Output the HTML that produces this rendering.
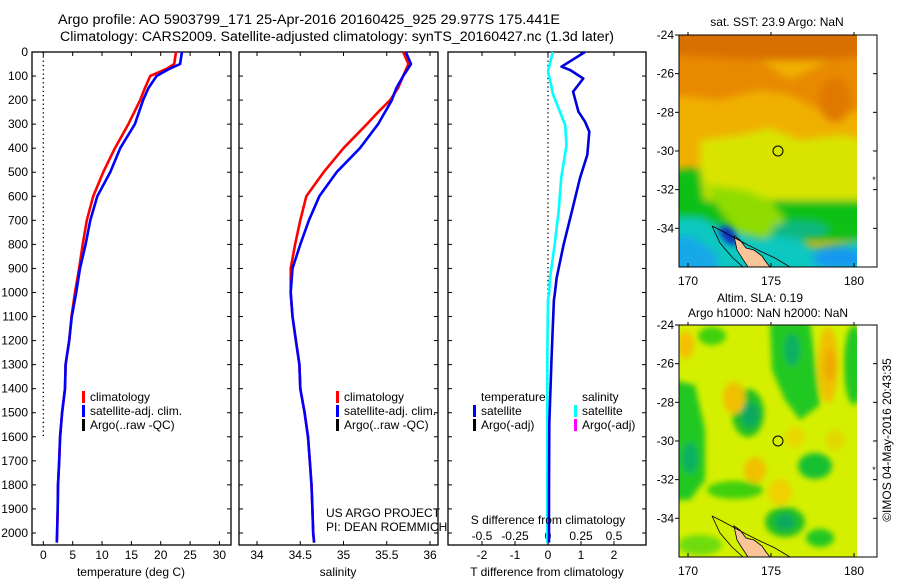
<!DOCTYPE html>
<html><head><meta charset="utf-8"><title>Argo profile</title>
<style>
html,body{margin:0;padding:0;background:#fff;}
svg{display:block;font-family:"Liberation Sans",sans-serif;}
</style></head>
<body>
<svg id="fig" width="900" height="580" viewBox="0 0 900 580" xmlns="http://www.w3.org/2000/svg">
<defs>
<filter id="blur4" x="-20%" y="-20%" width="140%" height="140%"><feGaussianBlur stdDeviation="4"/></filter>
<filter id="blur3" x="-30%" y="-30%" width="160%" height="160%"><feGaussianBlur stdDeviation="3"/></filter>
<clipPath id="clipSST"><rect x="679" y="35" width="178" height="232"/></clipPath>
<clipPath id="clipSLA"><rect x="679" y="325" width="178" height="232"/></clipPath>
</defs>
<g id="titles" font-size="13.5" fill="#000">
<text x="58" y="24" textLength="502" lengthAdjust="spacingAndGlyphs">Argo profile: AO 5903799_171 25-Apr-2016 20160425_925 29.977S 175.441E</text>
<text x="60" y="41" textLength="554" lengthAdjust="spacingAndGlyphs">Climatology: CARS2009. Satellite-adjusted climatology: synTS_20160427.nc (1.3d later)</text>
</g>

<!-- SST map -->
<g>
<g clip-path="url(#clipSST)">
<rect x="679" y="35" width="178" height="232" fill="#f0b000"/>
<g filter="url(#blur4)">
<rect x="670" y="25" width="200" height="35" fill="#d87000"/>
<polygon points="670,55 760,60 790,80 830,60 870,55 870,110 830,115 790,95 760,90 720,100 670,95" fill="#e88a00"/>
<ellipse cx="835" cy="100" rx="16" ry="22" fill="#e07800"/>
<polygon points="700,140 740,135 770,128 800,140 840,135 870,140 870,205 700,205" fill="#d8e400"/>
<polygon points="660,172 700,168 705,200 870,200 870,240 660,240" fill="#10c018"/>
<polygon points="705,185 745,190 770,200 785,220 765,238 738,232 720,210" fill="#90dc00"/>
<polygon points="660,218 700,218 730,232 760,240 790,232 812,248 870,240 870,280 660,280" fill="#10c8c0"/>
<polygon points="660,238 690,236 715,252 722,280 660,280" fill="#18a8e8"/>
<ellipse cx="838" cy="258" rx="26" ry="11" fill="#1898f0"/>
<ellipse cx="800" cy="230" rx="28" ry="9" fill="#10b880"/>
</g>
<polygon points="718,228 728,226 735,233 738,245 730,245 722,238" fill="#1030c0" filter="url(#blur3)"/>
<polygon points="734,236 740,240 746,248 754,250 762,256 766,262 770,267 748,267 742,258 737,250" fill="#f8c498" stroke="#000" stroke-width="0.8"/>
<polyline points="712,226 722,231 733,237 746,244 760,251 775,258 790,267" fill="none" stroke="#000" stroke-width="0.8"/>
<polyline points="712,226 720,243 732,257 743,267" fill="none" stroke="#000" stroke-width="0.8"/>
</g>
<circle cx="778" cy="151" r="5" fill="none" stroke="#000" stroke-width="1"/>
<rect x="679" y="35" width="198" height="232" fill="none" stroke="#000" stroke-width="1"/>
<text x="777" y="26" font-size="12" text-anchor="middle">sat. SST: 23.9 Argo: NaN</text>
<text x="874" y="183" font-size="9" text-anchor="middle">*</text>
<g id="sstAxes" font-size="12"></g>
</g>

<!-- SLA map -->
<g>
<g clip-path="url(#clipSLA)">
<rect x="679" y="325" width="178" height="232" fill="#d4f000"/>
<g filter="url(#blur3)">
<polygon points="770,322 810,322 815,360 820,405 800,420 785,400 772,370" fill="#20c820"/>
<ellipse cx="792" cy="350" rx="8" ry="16" fill="#10b060"/>
<polygon points="672,380 695,385 705,430 705,480 690,500 672,500" fill="#20c820"/>
<ellipse cx="690" cy="458" rx="8" ry="16" fill="#10b060"/>
<ellipse cx="748" cy="413" rx="16" ry="24" fill="#20c020"/>
<ellipse cx="750" cy="415" rx="9" ry="13" fill="#10a860"/>
<ellipse cx="854" cy="365" rx="10" ry="40" fill="#20c820"/>
<ellipse cx="815" cy="466" rx="17" ry="13" fill="#18c030"/>
<ellipse cx="785" cy="522" rx="20" ry="15" fill="#20c020"/>
<ellipse cx="785" cy="522" rx="10" ry="8" fill="#10a860"/>
<ellipse cx="820" cy="538" rx="14" ry="9" fill="#20c820"/>
<ellipse cx="735" cy="490" rx="28" ry="9" fill="#40d010"/>
<ellipse cx="712" cy="336" rx="14" ry="9" fill="#40d010"/>
<ellipse cx="700" cy="545" rx="22" ry="10" fill="#70dc10"/>
<ellipse cx="686" cy="345" rx="8" ry="14" fill="#f4c000"/>
<ellipse cx="734" cy="398" rx="11" ry="16" fill="#f0c000"/>
<ellipse cx="828" cy="365" rx="10" ry="38" fill="#f0c000"/>
<ellipse cx="830" cy="365" rx="6" ry="16" fill="#f0a800"/>
<ellipse cx="755" cy="470" rx="11" ry="13" fill="#f0c000"/>
<ellipse cx="780" cy="492" rx="12" ry="13" fill="#f0d000"/>
<ellipse cx="795" cy="437" rx="10" ry="10" fill="#e8d800"/>
<ellipse cx="835" cy="440" rx="10" ry="10" fill="#e0d800"/>
</g>
<polygon points="734,526 740,530 746,538 754,540 762,546 766,552 770,557 748,557 742,548 737,540" fill="#f8c498" stroke="#000" stroke-width="0.8"/>
<polyline points="712,516 722,521 733,527 746,534 760,541 775,548 790,557" fill="none" stroke="#000" stroke-width="0.8"/>
<polyline points="712,516 720,533 732,547 743,557" fill="none" stroke="#000" stroke-width="0.8"/>
</g>
<circle cx="778" cy="441" r="5" fill="none" stroke="#000" stroke-width="1"/>
<rect x="679" y="325" width="198" height="232" fill="none" stroke="#000" stroke-width="1"/>
<text x="760" y="302" font-size="12" text-anchor="middle">Altim. SLA: 0.19</text>
<text x="768" y="317" font-size="12" text-anchor="middle">Argo h1000: NaN h2000: NaN</text>
<text x="874" y="473" font-size="9" text-anchor="middle">*</text>
<g id="slaAxes" font-size="12"></g>
</g>
<text transform="translate(891,440) rotate(-90)" font-size="12" text-anchor="middle">©IMOS 04-May-2016 20:43:35</text>

<g id="panels"></g>
</svg>
<script>
// ---------- data ----------
const depths = [0,50,70,100,150,200,300,400,500,600,700,800,900,1000,1100,1200,1300,1400,1500,1600,1700,1800,1900,2000,2040];
const tempClim = [22.6,22.3,21.0,18.2,17.3,16.5,14.5,12.2,10.2,8.5,7.4,6.7,6.1,5.4,4.8,4.4,3.8,3.7,3.2,2.85,2.7,2.5,2.45,2.35,2.3];
const tempSat  = [23.6,23.3,21.5,19.3,17.9,17.0,15.6,13.1,11.4,9.2,8.0,7.2,6.25,5.6,4.85,4.4,3.8,3.7,3.2,2.85,2.7,2.5,2.45,2.35,2.3];
const salDepths = [0,50,100,150,200,250,300,400,500,600,700,800,900,1000,1100,1200,1300,1400,1500,1600,1700,1800,1900,2000,2040];
const salClim = [35.69,35.75,35.69,35.63,35.54,35.40,35.27,35.0,34.77,34.57,34.50,34.44,34.39,34.39,34.41,34.45,34.49,34.50,34.55,34.59,34.61,34.63,34.64,34.65,34.66];
const salSat  = [35.72,35.78,35.69,35.61,35.56,35.48,35.40,35.19,34.92,34.72,34.60,34.50,34.41,34.39,34.41,34.45,34.49,34.50,34.55,34.59,34.61,34.63,34.64,34.65,34.66];
const tdDepths = [0,61,75,110,165,248,290,331,428,524,664,803,940,1003,1031,1267,1544,1821,2040];
const tDiff = [1.12,0.41,0.67,1.07,0.76,0.92,1.12,1.25,1.19,0.97,0.72,0.47,0.26,0.21,0.18,0.11,0.04,0.03,0.03];
const sdDepths = [0,80,180,248,304,387,524,664,803,940,1003,1031,1267,1600,2040];
const sDiff = [0.036,0.0,0.04,0.09,0.13,0.14,0.10,0.08,0.05,0.015,0.008,0.0,-0.005,-0.005,-0.005];
const depthTicks = [0,100,200,300,400,500,600,700,800,900,1000,1100,1200,1300,1400,1500,1600,1700,1800,1900,2000];
const tempTicks = [0,5,10,15,20,25,30];
const salTicks = [34,34.5,35,35.5,36];
const salTickLabels = ["34","34.5","35","35.5","36"];
const tdTicks = [-2,-1,0,1,2];
const sdTicks = [-0.5,-0.25,0,0.25,0.5];
const sdTickLabels = ["-0.5","-0.25","0","0.25","0.5"];
const latTicks = [-24,-26,-28,-30,-32,-34];
const lonTicks = [170,175,180];

// ---------- axes ----------
const NS = "http://www.w3.org/2000/svg";
const TOP = 52, BOT = 545;
const yD = d => TOP + d * (BOT - TOP) / 2050;
const P1 = {l:32, r:231}, P2 = {l:239, r:438}, P3 = {l:448, r:646};
const xT = v => P1.l + (v + 1.93) * (P1.r - P1.l) / 33.9;
const xS = v => 257 + (v - 34) * 86.5;
const xTD = v => 548 + v * 33;
const xSD = v => xTD(v * 4);

function mk(tag, attrs, parent) {
  const e = document.createElementNS(NS, tag);
  for (const k in attrs) e.setAttribute(k, attrs[k]);
  parent.appendChild(e);
  return e;
}
function txt(parent, x, y, s, size, anchor) {
  const t = mk("text", {x:x, y:y, "font-size":size, "text-anchor":anchor||"middle"}, parent);
  t.textContent = s;
  return t;
}
const root = document.getElementById("panels");

function panel(P, name) {
  const g = mk("g", {}, root);
  
  
  const fr = mk("rect", {x:P.l, y:TOP, width:P.r-P.l, height:BOT-TOP, fill:"none", stroke:"#000", "stroke-width":1.3}, g);
  
  
  const ticks = mk("g", {stroke:"#000", "stroke-width":1}, g);
  
  
  depthTicks.forEach(d => {
    const y = yD(d);
    mk("line", {x1:P.l, x2:P.l+4, y1:y, y2:y}, ticks);
    mk("line", {x1:P.r-4, x2:P.r, y1:y, y2:y}, ticks);
  });
  return g;
}
function xticks(g, P, vals, labels, xf, ly, name) {
  const tg = mk("g", {}, g);
  
  
  vals.forEach((v, i) => {
    const x = xf(v);
    mk("line", {x1:x, x2:x, y1:BOT, y2:BOT-4, stroke:"#000"}, tg);
    mk("line", {x1:x, x2:x, y1:TOP, y2:TOP+4, stroke:"#000"}, tg);
    txt(tg, x, ly, labels[i], 12);
  });
}
function line(g, ds, vs, xf, color, name, w) {
  const pts = ds.map((d, i) => xf(vs[i]).toFixed(1) + "," + yD(d).toFixed(1)).join(" ");
  const p = mk("polyline", {points:pts, fill:"none", stroke:color, "stroke-width":w||2.6, "stroke-linejoin":"round"}, g);
  
  
}
function legend(g, x, y, items, name) {
  const lg = mk("g", {}, g);
  
  
  items.forEach((it, i) => {
    const yy = y + i * 14;
    if (it[0]) mk("rect", {x:x, y:yy-10, width:3, height:12, fill:it[0]}, lg);
    txt(lg, x + 8, yy, it[1], 12, "start");
  });
}

// Panel 1: temperature
const g1 = panel(P1, "temperature-panel");
const yl = mk("g", {}, g1);


depthTicks.forEach(d => txt(yl, 28, yD(d) + 4, String(d), 12, "end"));
mk("line", {x1:xT(0), x2:xT(0), y1:TOP, y2:yD(1600), stroke:"#000", "stroke-width":1.3, "stroke-dasharray":"1.3,3"}, g1);
xticks(g1, P1, tempTicks, tempTicks.map(String), xT, 559, "temperature-x-ticks");
line(g1, depths, tempClim, xT, "#ff0000", "temperature-climatology-line");
line(g1, depths, tempSat, xT, "#0000ff", "temperature-satellite-line");
const xl1 = txt(g1, 131, 576, "temperature (deg C)", 12);


legend(g1, 82, 401, [["#ff0000","climatology"],["#0000ff","satellite-adj. clim."],["#000","Argo(..raw -QC)"]], "temperature-legend");

// Panel 2: salinity
const g2 = panel(P2, "salinity-panel");
xticks(g2, P2, salTicks, salTickLabels, xS, 559, "salinity-x-ticks");
line(g2, salDepths, salClim, xS, "#ff0000", "salinity-climatology-line");
line(g2, salDepths, salSat, xS, "#0000ff", "salinity-satellite-line");
const xl2 = txt(g2, 338, 576, "salinity", 12);


legend(g2, 336, 401, [["#ff0000","climatology"],["#0000ff","satellite-adj. clim."],["#000","Argo(..raw -QC)"]], "salinity-legend");
const cr = mk("g", {}, g2);


txt(cr, 326, 517, "US ARGO PROJECT", 12, "start");
txt(cr, 326, 531, "PI: DEAN ROEMMICH", 12, "start");

// Panel 3: differences
const g3 = panel(P3, "difference-panel");
mk("line", {x1:xTD(0), x2:xTD(0), y1:TOP, y2:BOT, stroke:"#000", "stroke-width":1.3, "stroke-dasharray":"1.3,3"}, g3);
xticks(g3, P3, tdTicks, tdTicks.map(String), xTD, 559, "t-difference-ticks");
const sl = mk("g", {}, g3);


sdTicks.forEach((v, i) => txt(sl, xSD(v), 540, sdTickLabels[i], 12));
line(g3, sdDepths, sDiff, xSD, "#00ffff", "salinity-difference-line");
line(g3, tdDepths, tDiff, xTD, "#0000dd", "temperature-difference-line");
const xl3 = txt(g3, 547, 576, "T difference from climatology", 12);


const xl4 = txt(g3, 548, 524, "S difference from climatology", 12);


legend(g3, 473, 401, [[null,""],["#0000ff","satellite"],["#000","Argo(-adj)"]], "temperature-difference-legend");
const lt = txt(g3, 481, 401, "temperature", 12, "start");
legend(g3, 574, 401, [[null,""],["#00ffff","satellite"],["#ff00ff","Argo(-adj)"]], "salinity-difference-legend");
const ls = txt(g3, 582, 401, "salinity", 12, "start");

// Map axes
function mapAxes(id, top, name) {
  const g = document.getElementById(id);
  
  
  const yLat = lat => top + (-24 - lat) * 19.33;
  const xLon = lon => 688 + (lon - 170) * 16.6;
  latTicks.forEach(lat => {
    const y = yLat(lat);
    mk("line", {x1:679, x2:675, y1:y, y2:y, stroke:"#000"}, g);
    mk("line", {x1:877, x2:873, y1:y, y2:y, stroke:"#000"}, g);
    txt(g, 674, y + 4, String(lat), 12, "end");
  });
  lonTicks.forEach(lon => {
    const x = xLon(lon);
    mk("line", {x1:x, x2:x, y1:top+232, y2:top+228, stroke:"#000"}, g);
    mk("line", {x1:x, x2:x, y1:top, y2:top-3, stroke:"#000"}, g);
    txt(g, x, top + 250, String(lon), 12);
  });
}
mapAxes("sstAxes", 35, "sst-map-axes");
mapAxes("slaAxes", 325, "sla-map-axes");
</script>
</body></html>
